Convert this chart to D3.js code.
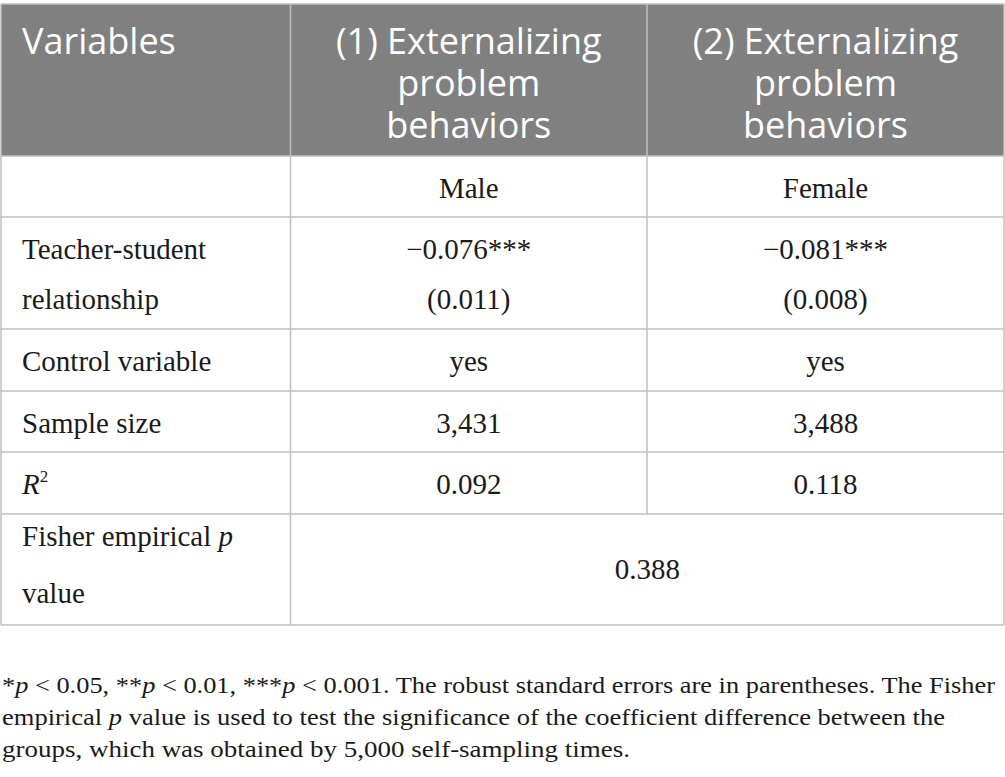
<!DOCTYPE html>
<html><head><meta charset="utf-8">
<script src="https://cdn.jsdelivr.net/npm/d3@7"></script>
<style>html,body{margin:0;padding:0;background:#fff;}svg{display:block;}</style>
</head><body>
<svg id="chart" width="1005" height="777"></svg>
<script>
// ---- data ----
const headerLines = [["Variables"], ["(1) Externalizing", "problem", "behaviors"], ["(2) Externalizing", "problem", "behaviors"]];
const groups = ["Male", "Female"];
const rowLabels = [["Teacher-student", "relationship"], ["Control variable"], ["Sample size"], ["R2"], ["Fisher empirical p", "value"]];
const coefficients = ["\u22120.076***", "\u22120.081***"];
const standardErrors = ["(0.011)", "(0.008)"];
const controlVariable = ["yes", "yes"];
const sampleSize = ["3,431", "3,488"];
const rSquared = ["0.092", "0.118"];
const fisherP = "0.388";
const footnoteLines = [
  "*p < 0.05, **p < 0.01, ***p < 0.001. The robust standard errors are in parentheses. The Fisher",
  "empirical p value is used to test the significance of the coefficient difference between the",
  "groups, which was obtained by 5,000 self-sampling times."
];

// ---- layout ----
const svg = d3.select("#chart");
const colEdges = [1, 290.5, 647, 1004];
const rowHeights = [152, 61, 112, 62, 61, 62, 111];
const rowEdges = [4];
rowHeights.forEach(h => rowEdges.push(rowEdges[rowEdges.length - 1] + h));
const x = d3.scaleOrdinal().domain([0, 1, 2, 3]).range(colEdges);
const y = d3.scaleOrdinal().domain(d3.range(rowEdges.length)).range(rowEdges);
const xc = i => (x(i) + x(i + 1)) / 2;
const yc = r => (y(r) + y(r + 1)) / 2;

const serif = "'Liberation Serif', 'Times New Roman', serif";
const sans = "'Open Sans', 'Noto Sans', sans-serif";
const border = "#bfbfbf";
const textCol = "#1a1a1a";
const bodySize = 29;

// header background
svg.append("rect").attr("x", x(0)).attr("y", y(0)).attr("width", x(3) - x(0)).attr("height", y(1) - y(0)).attr("fill", "#808080");

// header text
const hdrBase = [53, 95, 137];
headerLines.forEach((lines, c) => {
  const t = svg.append("text").attr("fill", "#fff").attr("font-family", sans).attr("font-size", 36)
    .attr("text-anchor", c === 0 ? "start" : "middle");
  lines.forEach((ln, k) => {
    t.append("tspan").attr("x", c === 0 ? x(0) + 21 : xc(c)).attr("y", y(0) + hdrBase[k] - 3).text(ln);
  });
});

function cellText(xp, yp, anchor, str) {
  return svg.append("text").attr("x", xp).attr("y", yp).attr("font-family", serif).attr("font-size", bodySize)
    .attr("fill", textCol).attr("text-anchor", anchor).text(str);
}
const off = 11;
// group row
groups.forEach((g, i) => cellText(xc(i + 1), yc(1) + off, "middle", g));
// teacher-student row
const lh2 = 49.5;
rowLabels[0].forEach((ln, k) => cellText(x(0) + 21, yc(2) + off - lh2 / 2 + k * lh2, "start", ln));
coefficients.forEach((v, i) => cellText(xc(i + 1), yc(2) + off - lh2 / 2, "middle", v));
standardErrors.forEach((v, i) => cellText(xc(i + 1), yc(2) + off + lh2 / 2, "middle", v));
// control
cellText(x(0) + 21, yc(3) + off, "start", rowLabels[1][0]);
controlVariable.forEach((v, i) => cellText(xc(i + 1), yc(3) + off, "middle", v));
// sample size
cellText(x(0) + 21, yc(4) + off, "start", rowLabels[2][0]);
sampleSize.forEach((v, i) => cellText(xc(i + 1), yc(4) + off, "middle", v));
// R2
const r2t = cellText(x(0) + 21, yc(5) + off, "start", "");
r2t.append("tspan").attr("font-style", "italic").text(rowLabels[3][0][0]);
r2t.append("tspan").attr("font-size", 17).attr("dy", -12).text(rowLabels[3][0][1]);
rSquared.forEach((v, i) => cellText(xc(i + 1), yc(5) + off, "middle", v));
// Fisher
const f1 = cellText(x(0) + 21, yc(6) - 23.5, "start", "");
const fParts = rowLabels[4][0].split(" p");
f1.append("tspan").text(fParts[0] + " ");
f1.append("tspan").attr("font-style", "italic").text("p");
cellText(x(0) + 21, yc(6) + 33.5, "start", rowLabels[4][1]);
cellText((x(1) + x(3)) / 2, yc(6) + 9, "middle", fisherP);

// grid lines
const g = svg.append("g").attr("stroke", border).attr("stroke-width", 1.5).attr("fill", "none");
rowEdges.forEach(yy => {
  g.append("line").attr("x1", x(0)).attr("x2", x(3)).attr("y1", yy).attr("y2", yy);
});
[0, 1, 2, 3].forEach(c => {
  const yEnd = (c === 2) ? y(6) : y(7);
  g.append("line").attr("x1", x(c)).attr("x2", x(c)).attr("y1", y(0)).attr("y2", yEnd);
});

// footnote
const fnBase = [693, 725, 757];
const fnWidths = [993, 943, 628];
footnoteLines.forEach((ln, k) => {
  const t = svg.append("text").attr("x", 2).attr("y", fnBase[k]).attr("font-family", serif).attr("font-size", 24)
    .attr("fill", textCol).attr("textLength", fnWidths[k]).attr("lengthAdjust", "spacingAndGlyphs");
  const parts = ln.split(/(\bp\b)/);
  parts.forEach(p => {
    if (p === "p") t.append("tspan").attr("font-style", "italic").text("p");
    else if (p.length) t.append("tspan").text(p);
  });
});
</script>
</body></html>
